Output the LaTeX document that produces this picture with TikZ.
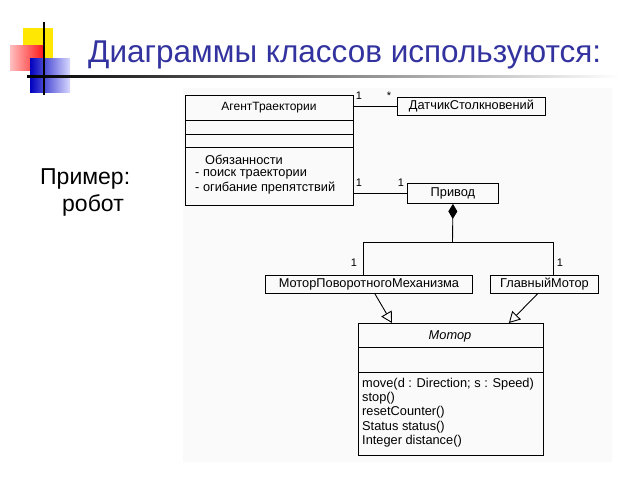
\documentclass[tikz,border=0pt]{standalone}
\usepackage{fontspec}
\setmainfont{Liberation Sans}
\usetikzlibrary{arrows.meta}
\definecolor{titleblue}{RGB}{51,51,160}

\tikzset{
    cls/.style={draw, line width=0.9pt, inner sep=0pt, anchor=north west},
    txt/.style={font=\fontsize{12.8}{14}\selectfont, inner sep=0pt},
    mult/.style={font=\fontsize{11}{12}\selectfont, inner sep=0pt},
    conn/.style={line width=0.9pt},
    gen/.style={line width=0.9pt, -{Triangle[open, length=11pt, width=12pt]}},
}

\begin{document}
\begin{tikzpicture}[x=1pt, y=-1pt]

    \useasboundingbox (0,0) rectangle (640,480);

    % bullet squares
    \fill[yellow!90!orange] (23,28) rectangle (53,58);
    \shade[left color=red!25, right color=red!90] (10,45) rectangle (43,70);
    \shade[left color=blue!75!black, right color=blue!15] (30,58) rectangle (70,92);
    \draw[line width=1.5pt] (44,22) -- (44,95);
    \shade[left color=black, right color=white] (27,75.5) rectangle (620,77.5);

    % title
    \node[anchor=base west, inner sep=0pt, text=titleblue, font=\fontsize{31.5}{36}\selectfont]
        (title) at (88,62) {Диаграммы классов используются:};
    \node[anchor=base west, inner sep=0pt, font=\fontsize{23}{28}\selectfont] (ex1) at (40,184) {Пример:};
    \node[anchor=base west, inner sep=0pt, font=\fontsize{23}{28}\selectfont] (ex2) at (62,211) {робот};

    % scan background
    \fill[gray!4] (183,88) rectangle (612,462);

    % classes
    \node[cls, minimum width=168pt, minimum height=110pt] (agent) at (185,95) {};
    \draw[conn] (185,120) -- (353,120);
    \draw[conn] (185,134) -- (353,134);
    \draw[conn] (185,147) -- (353,147);
    \node[txt, font=\fontsize{12}{14}\selectfont] (agentname) at (269,108) {АгентТраектории};
    \node[txt, anchor=west] (resp) at (205,160) {Обязанности};
    \node[txt, anchor=west] (resp1) at (195,174) {- поиск траектории};
    \node[txt, anchor=west] (resp2) at (195,188) {- огибание препятствий};

    \node[cls, minimum width=148pt, minimum height=18pt] (sensor) at (397,97) {};
    \node[txt] (sensorname) at (sensor.center) {ДатчикСтолкновений};

    \node[cls, minimum width=91pt, minimum height=20pt] (drive) at (407,183) {};
    \node[txt] (drivename) at (drive.center) {Привод};

    \node[cls, minimum width=207pt, minimum height=18pt] (rotor) at (265,275) {};
    \node[txt] (rotorname) at (rotor.center) {МоторПоворотногоМеханизма};

    \node[cls, minimum width=108pt, minimum height=18pt] (main) at (490,275) {};
    \node[txt] (mainname) at (main.center) {ГлавныйМотор};

    \node[cls, minimum width=185pt, minimum height=132pt] (motor) at (358,323) {};
    \draw[conn] (358,347) -- (543,347);
    \draw[conn] (358,372) -- (543,372);
    \node[txt, font=\fontsize{12.8}{14}\selectfont\itshape] (motorname) at (450,336) {Мотор};
    \node[txt, anchor=west] (op1) at (362,384) {move(d : Direction; s : Speed)};
    \node[txt, anchor=west] (op2) at (362,398) {stop()};
    \node[txt, anchor=west] (op3) at (362,412) {resetCounter()};
    \node[txt, anchor=west] (op4) at (362,427) {Status status()};
    \node[txt, anchor=west] (op5) at (362,441) {Integer distance()};

    % associations
    \draw[conn] (agent.east |- sensor) -- (sensor.west); % agent -> sensor
    \node[mult] (m1) at (359,96) {1};
    \node[mult] (m2) at (389,96) {*};
    \draw[conn] (agent.east |- drive) -- (drive.west); % agent -> drive
    \node[mult] (m3) at (359,183) {1};
    \node[mult] (m4) at (401,183) {1};

    % composition
    \coordinate (fork) at (452.5,242);
    \coordinate (forkL) at (363,242);
    \coordinate (forkR) at (553,242);
    \draw[conn, {Diamond[length=15pt, width=9pt]}-] (drive.south) -- (fork);
    \draw[conn] (forkL |- rotor.north) -- (forkL) -- (forkR) -- (forkR |- main.north);
    \node[mult] (m5) at (354,263) {1};
    \node[mult] (m6) at (560,263) {1};

    % generalization
    \draw[gen] ([xshift=6pt]rotor.south) -- ([xshift=34pt]motor.north west); % rotor -> motor
    \draw[gen] ([xshift=-7pt]main.south) -- ([xshift=-35pt]motor.north east); % main -> motor

\end{tikzpicture}
\end{document}
